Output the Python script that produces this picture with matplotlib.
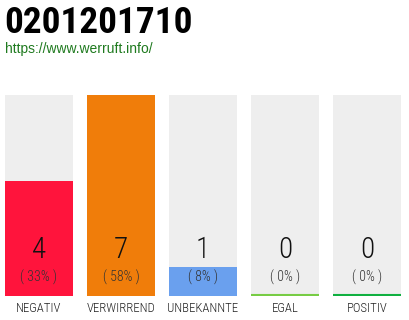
import matplotlib
matplotlib.use("Agg")
import matplotlib.pyplot as plt

# --------------------------------
# DATA
# --------------------------------
title = "0201201710"
url = "https://www.werruft.info/"
categories = ["NEGATIV", "VERWIRREND", "UNBEKANNTE", "EGAL", "POSITIV"]
counts = [4, 7, 1, 0, 0]
percents = ["( 33% )", "( 58% )", "( 8% )", "( 0% )", "( 0% )"]
colours = ["#ff143c", "#f07d0a", "#6aa0ee", "#77cc44", "#10b040"]

cond = ["Roboto Condensed", "DejaVu Sans"]

fig = plt.figure(figsize=(4.1, 3.2), dpi=100)
fig.patch.set_facecolor("white")

# title and url
fig.text(4 / 410, 1 - 23 / 320, title, fontsize=26.8, fontweight="bold",
         family=cond, color="black", va="center", ha="left")
fig.text(5 / 410, 1 - 49 / 320, url, fontsize=10, family=["Liberation Sans"],
         color="#1f7a1f", va="center", ha="left")

ax = fig.add_axes([5 / 410, 24 / 320, 396 / 410, 201 / 320])
x = list(range(len(categories)))
w = 68 / 82
top = max(counts)

# grey background columns
ax.bar(x, [top] * len(x), width=w, color="#eeeeee", zorder=1)
# value bars
ax.bar(x, counts, width=w, color=colours, zorder=2)
# thin line for the zero bars
for i in x:
    if counts[i] == 0:
        ax.plot([i - w / 2, i + w / 2], [0.02, 0.02], color=colours[i],
                lw=1.5, solid_capstyle="butt", zorder=3)

for i in x:
    ax.text(i, 1.6, str(counts[i]), ha="center", va="center", fontsize=21,
            family=cond, fontweight=300, color="#111111", zorder=4)
    ax.text(i, 0.66, percents[i], ha="center", va="center", fontsize=10,
            family=cond, fontweight=300, color="#333333", zorder=4)

ax.set_xlim(-w / 2, len(x) - 1 + w / 2)
ax.set_ylim(0, top)
ax.set_xticks(x)
ax.set_xticklabels(categories, family=cond, fontweight=300, fontsize=9.2,
                   color="#222222")
ax.tick_params(axis="x", length=0, pad=4.5)
ax.set_yticks([])
for s in ax.spines.values():
    s.set_visible(False)

plt.savefig("out.png", dpi=100)
